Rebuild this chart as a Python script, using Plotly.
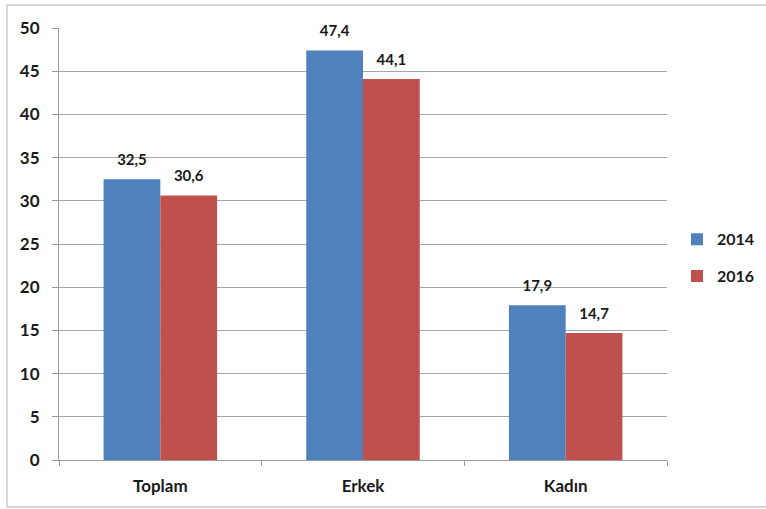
import plotly.graph_objects as go

categories = ["Toplam", "Erkek", "Kadın"]
years = ["2014", "2016"]
values_2014 = [32.5, 47.4, 17.9]
values_2016 = [30.6, 44.1, 14.7]
y_ticks = [0, 5, 10, 15, 20, 25, 30, 35, 40, 45, 50]

colors = {"2014": "#4F81BD", "2016": "#C0504D"}
FONT = "Lato"

W, H = 766, 509
L, R, T, B = 59, 0, 28, 49
plot_right = 667
pw, ph = W - L - R, H - T - B

fig = go.Figure()
for yr, vals in zip(years, [values_2014, values_2016]):
    fig.add_trace(go.Bar(
        x=categories, y=vals, name=yr, legendgroup=yr,
        offsetgroup=yr, alignmentgroup="a",
        marker=dict(color=colors[yr], line=dict(width=0)),
        hoverinfo="x+y+name",
    ))
for yr, vals in zip(years, [values_2014, values_2016]):
    fig.add_trace(go.Scatter(
        x=categories, y=vals, name=yr, legendgroup=yr, showlegend=False,
        offsetgroup=yr, alignmentgroup="a",
        mode="markers+text", marker=dict(size=15, opacity=0),
        text=["<b>" + f"{v:.1f}".replace(".", ",") + "</b>" for v in vals],
        textposition="top center",
        textfont=dict(family=FONT, size=15, color="#1a1a1a"),
        hoverinfo="skip", cliponaxis=False,
    ))

def px_x(p):
    return (p - L) / pw

def px_y(p):
    return (H - B - p) / ph

fig.update_layout(
    width=W, height=H,
    margin=dict(l=L, r=R, t=T, b=B),
    paper_bgcolor="white", plot_bgcolor="white",
    separators=",.",
    barmode="group", bargap=0.44, bargroupgap=0,
    scattermode="group", scattergap=0.44,
    font=dict(family=FONT, size=14, color="#1a1a1a", weight="bold"),
    showlegend=True,
    legend=dict(x=px_x(677), y=0.468, xanchor="left", yanchor="middle",
                font=dict(family=FONT, size=16, weight="bold", color="#1a1a1a"),
                tracegroupgap=13, traceorder="grouped", itemwidth=30,
                bgcolor="rgba(0,0,0,0)"),
    xaxis=dict(type="category", domain=[0, px_x(plot_right)],
               tickson="boundaries", ticks="outside", ticklen=5,
               tickcolor="#9a9a9a", showline=True, linecolor="#9a9a9a", linewidth=1,
               showgrid=False, ticklabelstandoff=11,
               tickfont=dict(family=FONT, size=17, weight="bold", color="#1a1a1a")),
    yaxis=dict(range=[0, 50], tickvals=y_ticks, ticks="outside", ticklen=6,
               tickcolor="#9a9a9a", showline=True, linecolor="#9a9a9a", linewidth=1,
               showgrid=True, gridcolor="#a6a6a6", gridwidth=1, zeroline=False,
               ticklabelstandoff=9,
               tickfont=dict(family=FONT, size=17, weight="bold", color="#1a1a1a")),
    shapes=[dict(type="rect", xref="paper", yref="paper",
                 x0=px_x(7), x1=px_x(775), y0=px_y(507), y1=px_y(5),
                 line=dict(color="#d9d9d9", width=2), layer="below")],
)

fig.write_html("out.html")
